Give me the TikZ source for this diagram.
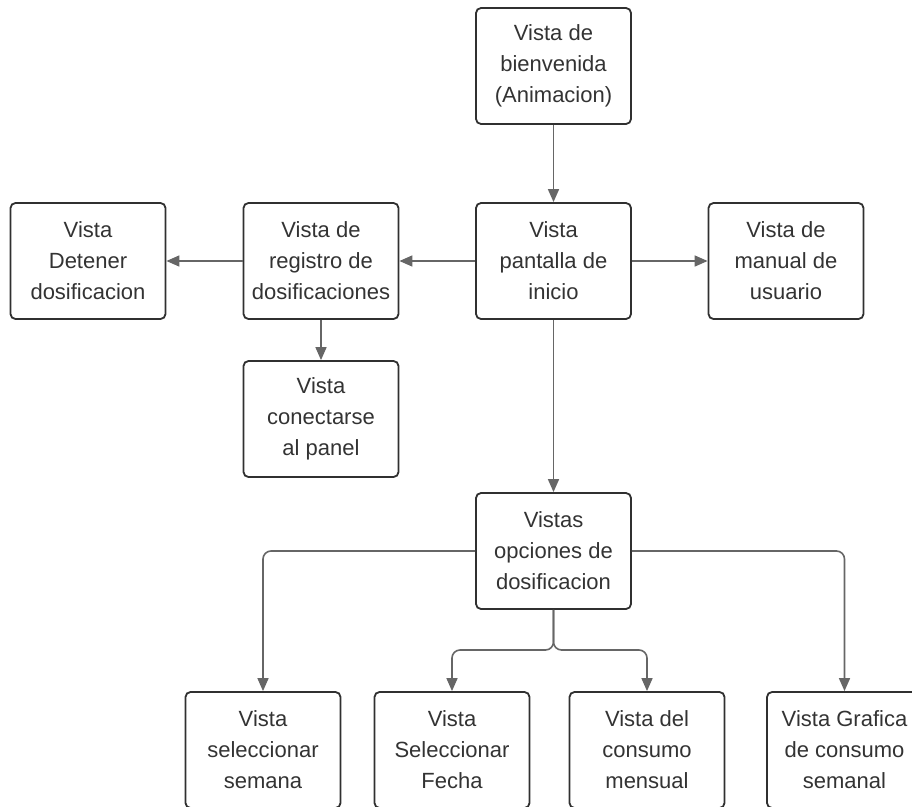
\documentclass[tikz,border=0pt]{standalone}
\usepackage{fontspec}
\setmainfont{Liberation Sans}
\usetikzlibrary{arrows.meta}
\definecolor{boxgray}{HTML}{303030}
\definecolor{linegray}{HTML}{666666}
\definecolor{txtgray}{HTML}{333333}
\tikzset{>/.tip={Triangle[length=13pt,width=11pt]},
  vista/.style={draw=boxgray, line width=1.8pt, rounded corners=5pt,
    minimum width=155pt, minimum height=116pt, align=center,
    text=txtgray, font=\fontsize{22}{31}\selectfont},
  conn/.style={->, draw=linegray, fill=none, line width=1.6pt, rounded corners=8pt}}

\begin{document}
\begin{tikzpicture}[x=1pt,y=-1pt]
\clip (0,0) rectangle (912,806);
\node[vista] (bien) at (553.5,66)  {Vista de\\bienvenida\\(Animacion)};
\node[vista] (ini)  at (553.5,261) {Vista\\pantalla de\\inicio};
\node[vista] (reg)  at (321,261)   {Vista de\\registro de\\dosificaciones};
\node[vista] (det)  at (88,261)    {Vista\\Detener\\dosificacion};
\node[vista] (man)  at (786,261)   {Vista de\\manual de\\usuario};
\node[vista] (con)  at (321,419)   {Vista\\conectarse\\al panel};
\node[vista] (opc)  at (553.5,551) {Vistas\\opciones de\\dosificacion};
\node[vista] (sem)  at (263,750)   {Vista\\seleccionar\\semana};
\node[vista] (fec)  at (452,750)   {Vista\\Seleccionar\\Fecha};
\node[vista] (mens) at (647,750)   {Vista del\\consumo\\mensual};
\node[vista] (graf) at (844.5,750) {Vista Grafica\\de consumo\\semanal};
\coordinate (split) at (553.5,650);
\foreach \a/\b in {bien.south/ini.north, ini.west/reg.east, reg.west/det.east,
                   ini.east/man.west, reg.south/con.north, ini.south/opc.north}
{
  \draw[conn] (\a) -- (\b);
}
\draw[conn] (opc.west) -| (sem.north);
\draw[conn] (opc.east) -| (graf.north);
\draw[conn] (opc.south) -- (split) -| (fec.north);
\draw[conn] (opc.south) -- (split) -| (mens.north);
\end{tikzpicture}
\end{document}
